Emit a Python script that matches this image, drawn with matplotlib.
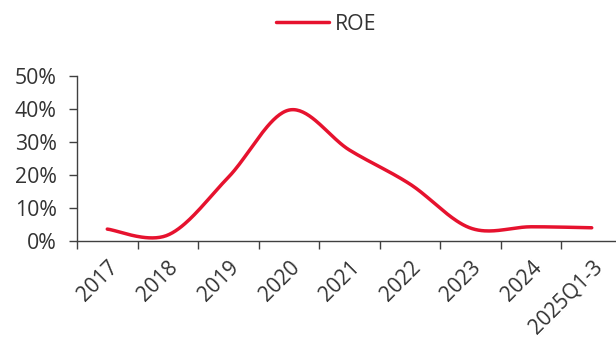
import numpy as np
import matplotlib.pyplot as plt
from matplotlib.ticker import PercentFormatter

plt.rcParams['font.family'] = ['Open Sans', 'DejaVu Sans']

categories = ['2017', '2018', '2019', '2020', '2021', '2022', '2023', '2024', '2025Q1-3']
roe = [3.6, 1.8, 19.3, 39.6, 27.5, 17.2, 3.9, 4.3, 4.0]
ytick_vals = [0, 10, 20, 30, 40, 50]

FS = 15.3
TXT = '#333333'
AXC = '#404040'


def smooth(x, y, n=40):
    # Catmull-Rom style smoothing between the data points
    x = np.asarray(x, float)
    y = np.asarray(y, float)
    px = np.concatenate([[x[0]], x, [x[-1]]])
    py = np.concatenate([[y[0]], y, [y[-1]]])
    xs, ys = [], []
    t = np.linspace(0, 1, n)
    for i in range(1, len(px) - 2):
        p0, p1, p2, p3 = (np.array([px[j], py[j]]) for j in range(i - 1, i + 3))
        c1 = p1 + (p2 - p0) / 6.0
        c2 = p2 - (p3 - p1) / 6.0
        b = ((1 - t) ** 3)[:, None] * p1 + (3 * (1 - t) ** 2 * t)[:, None] * c1 \
            + (3 * (1 - t) * t ** 2)[:, None] * c2 + (t ** 3)[:, None] * p2
        xs.append(b[:, 0])
        ys.append(b[:, 1])
    return np.concatenate(xs), np.concatenate(ys)


W, H = 616, 343
fig = plt.figure(figsize=(W / 100, H / 100), dpi=100)
ax = fig.add_axes([77 / W, (H - 241) / H, 545 / W, (241 - 75.7) / H])

pos = np.arange(len(categories))
sx, sy = smooth(pos, roe)
ax.plot(sx, sy, color='#E6122E', lw=2.5, solid_capstyle='round', label='ROE')

ax.set_xlim(-0.5, len(categories) - 0.5)
ax.set_ylim(0, 50)
ax.set_yticks(ytick_vals)
ax.yaxis.set_major_formatter(PercentFormatter(decimals=0))

# category boundaries carry the tick marks, labels sit at the centres
ax.set_xticks(np.arange(len(categories) + 1) - 0.5)
ax.set_xticklabels([])
ax.set_xticks(pos, minor=True)
ax.set_xticklabels(categories, minor=True, rotation=45, ha='right',
                   rotation_mode='anchor', fontsize=15, color=TXT)

ax.tick_params(axis='x', which='minor', length=0, pad=11.5)
ax.tick_params(axis='x', which='major', length=5.5, width=1, color=AXC)
ax.tick_params(axis='y', length=5.5, width=1, color=AXC, labelsize=FS,
               labelcolor=TXT, pad=9)

for s in ['top', 'right']:
    ax.spines[s].set_visible(False)
for s in ['left', 'bottom']:
    ax.spines[s].set_color(AXC)
    ax.spines[s].set_linewidth(1)

leg = ax.legend(loc='center', bbox_to_anchor=(326 / W, 1 - 24 / H),
                bbox_transform=fig.transFigure, frameon=False, fontsize=FS,
                handlelength=2.5, handletextpad=0.25)
for t in leg.get_texts():
    t.set_color(TXT)

fig.savefig('out.png', dpi=100)
